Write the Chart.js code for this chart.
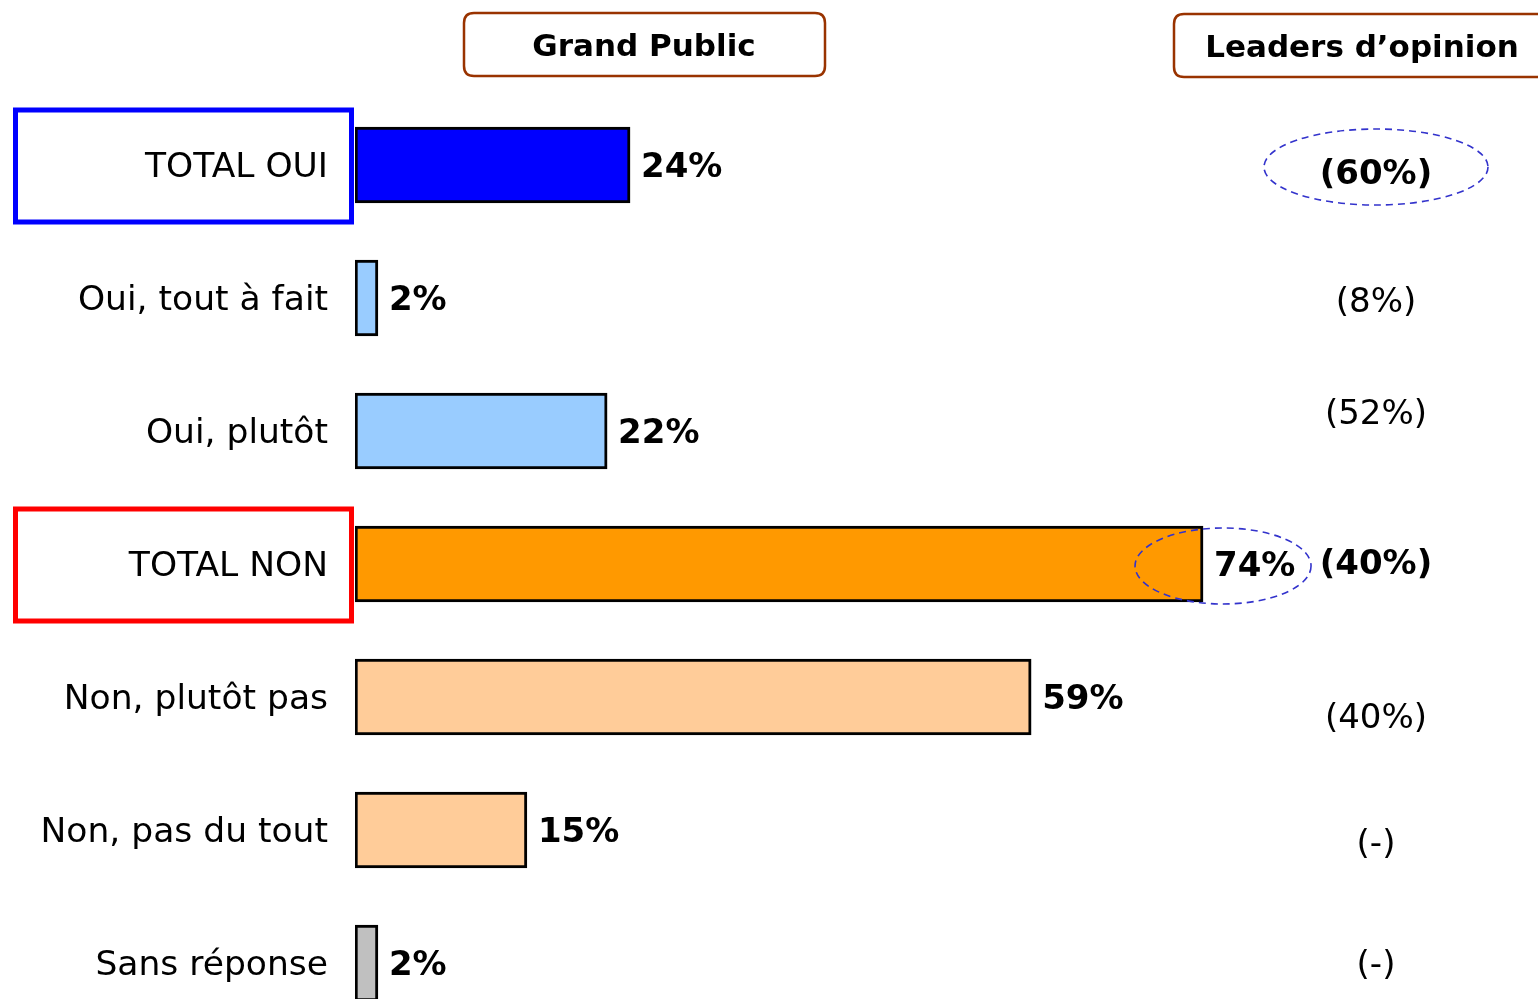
<!DOCTYPE html>
<html>
<head>
<meta charset="utf-8">
<script src="https://cdn.jsdelivr.net/npm/chart.js@4.4.1/dist/chart.umd.min.js"></script>
<style>
html,body{margin:0;padding:0;background:#fff;overflow:hidden;width:1538px;height:999px;}
#wrap{width:1538px;height:999px;position:relative;overflow:hidden;}
#c{position:absolute;left:0;top:0;}
</style>
</head>
<body>
<div id="wrap"><canvas id="c" width="1538" height="1040" style="width:1538px;height:1040px"></canvas></div>
<script>
// ---- data ----
const categories = ['TOTAL OUI', 'Oui, tout à fait', 'Oui, plutôt', 'TOTAL NON', 'Non, plutôt pas', 'Non, pas du tout', 'Sans réponse'];
const grandPublic = [24, 2, 22, 74, 59, 15, 2];
const leaders = [60, 8, 52, 40, 40, null, null];
const isTotal = [true, false, false, true, false, false, false];
const headerLeft = 'Grand Public';
const headerRight = 'Leaders d\u2019opinion';

// ---- styles ----
const barColors = ['#0000FF', '#99CCFF', '#99CCFF', '#FF9900', '#FFCC99', '#FFCC99', '#C0C0C0'];
const leaderDy = [7, 2, -19, -2, 19, 12, 0];
const FONT = '"DejaVu Sans", Verdana, sans-serif';
const TEXT_DY = 3;

const overlay = {
  id: 'overlay',
  afterDatasetsDraw(chart) {
    const ctx = chart.ctx;
    const x = chart.scales.x, y = chart.scales.y;
    ctx.save();
    // value labels
    ctx.fillStyle = '#000';
    ctx.textBaseline = 'middle';
    ctx.textAlign = 'left';
    ctx.font = 'bold 34px ' + FONT;
    grandPublic.forEach((v, i) => {
      ctx.fillText(v + '%', x.getPixelForValue(v) + 11, y.getPixelForValue(i) + TEXT_DY);
    });
    // leaders column
    ctx.textAlign = 'center';
    leaders.forEach((v, i) => {
      ctx.font = (isTotal[i] ? 'bold ' : '') + '34px ' + FONT;
      const t = v === null ? '(-)' : '(' + v + '%)';
      ctx.fillText(t, 1376, y.getPixelForValue(i) + leaderDy[i] + TEXT_DY);
    });
    // highlight boxes around totals
    ctx.lineWidth = 5;
    isTotal.forEach((t, i) => {
      if (!t) return;
      const cy = y.getPixelForValue(i);
      ctx.strokeStyle = i === 0 ? '#0000FF' : '#FF0000';
      ctx.strokeRect(15.5, cy - 55, 336, 112);
    });
    // dashed ellipses
    ctx.strokeStyle = '#3333CC';
    ctx.lineWidth = 1.6;
    ctx.setLineDash([7, 5]);
    ctx.beginPath();
    ctx.ellipse(1376, y.getPixelForValue(0) + 2, 112, 38, 0, 0, Math.PI * 2);
    ctx.stroke();
    ctx.beginPath();
    ctx.ellipse(x.getPixelForValue(grandPublic[3]) + 20, y.getPixelForValue(3) + 2, 88, 38, 0, 0, Math.PI * 2);
    ctx.stroke();
    ctx.setLineDash([]);
    // header boxes
    ctx.strokeStyle = '#993300';
    ctx.lineWidth = 2.5;
    const rr = (x0, y0, w, h, r) => {
      ctx.beginPath();
      ctx.moveTo(x0 + r, y0);
      ctx.lineTo(x0 + w - r, y0);
      ctx.quadraticCurveTo(x0 + w, y0, x0 + w, y0 + r);
      ctx.lineTo(x0 + w, y0 + h - r);
      ctx.quadraticCurveTo(x0 + w, y0 + h, x0 + w - r, y0 + h);
      ctx.lineTo(x0 + r, y0 + h);
      ctx.quadraticCurveTo(x0, y0 + h, x0, y0 + h - r);
      ctx.lineTo(x0, y0 + r);
      ctx.quadraticCurveTo(x0, y0, x0 + r, y0);
      ctx.closePath();
      ctx.stroke();
    };
    rr(464, 13, 361, 63, 10);
    rr(1174, 14, 400, 63, 10);
    ctx.fillStyle = '#000';
    ctx.font = 'bold 31px ' + FONT;
    ctx.fillText(headerLeft, 644, 48);
    ctx.fillText(headerRight, 1362, 49);
    ctx.restore();
  }
};

new Chart(document.getElementById('c'), {
  type: 'bar',
  data: {
    labels: categories,
    datasets: [{
      data: grandPublic,
      backgroundColor: barColors,
      borderColor: '#000',
      borderWidth: 3,
      borderSkipped: false,
      barThickness: 76
    }]
  },
  options: {
    indexAxis: 'y',
    responsive: false,
    animation: false,
    layout: { padding: { top: 98.5, bottom: 10.5, left: 0, right: 37 } },
    plugins: { legend: { display: false }, tooltip: { enabled: false } },
    scales: {
      x: { display: false, min: 0, max: 100 },
      y: {
        grid: { display: false, drawTicks: false },
        border: { display: false },
        afterFit: s => { s.width = 355; s.paddingTop = 0; s.paddingBottom = 0; },
        ticks: {
          padding: 27,
          labelOffset: 3,
          color: '#000',
          font: { family: FONT, size: 34.5 }
        }
      }
    }
  },
  plugins: [overlay]
});
</script>
</body>
</html>
